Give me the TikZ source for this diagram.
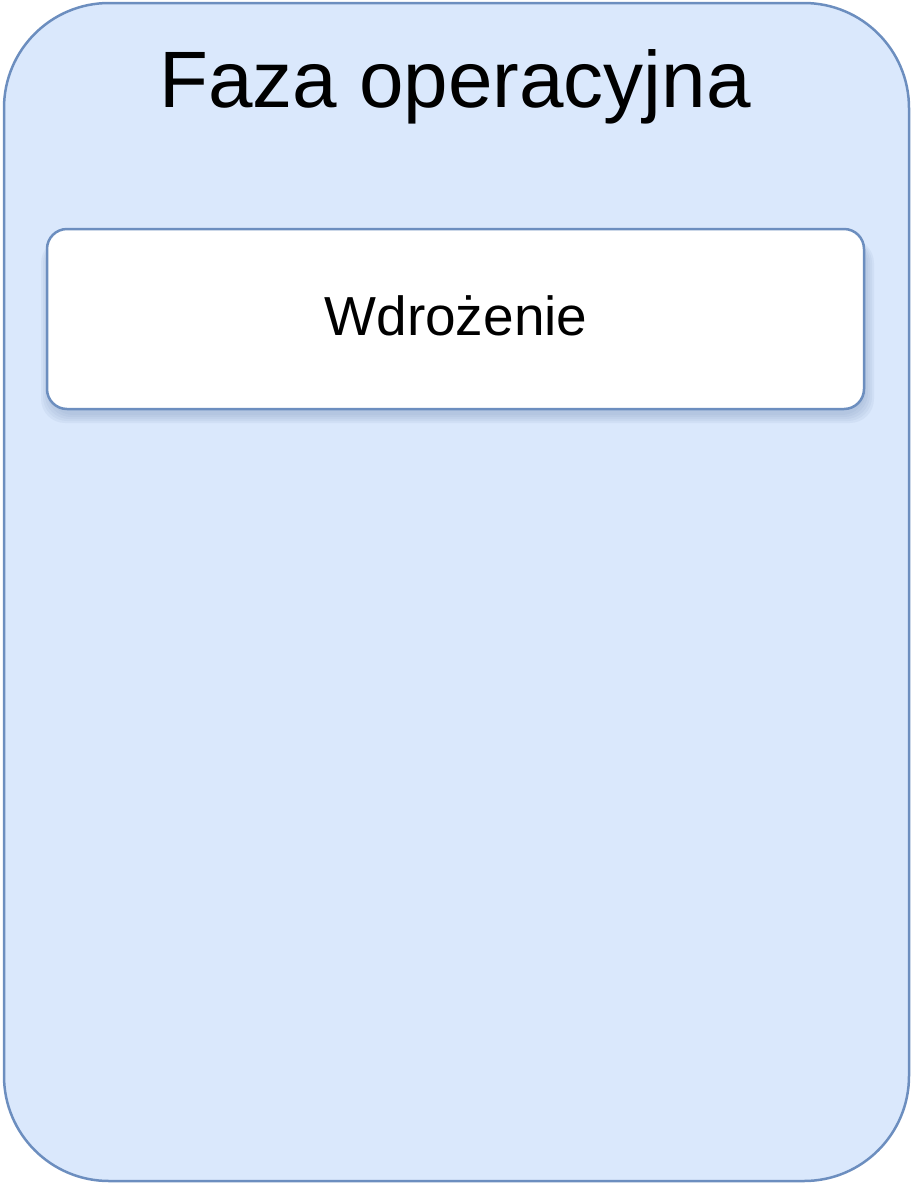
\documentclass[tikz,border=0pt]{standalone}
\usepackage{fontspec}
\setmainfont{Liberation Sans}
\usetikzlibrary{fit}
\definecolor{outerfill}{HTML}{DAE8FC}
\definecolor{edgeblue}{HTML}{6C8EBF}
\definecolor{shadowblue}{HTML}{8FA6C8}
\tikzset{
  phasebox/.style={draw=edgeblue, line width=2.5pt, fill=outerfill, rounded corners=105pt},
  stepbox/.style={draw=edgeblue, line width=2.5pt, fill=white, rounded corners=20pt},
  softshadow/.style={fill=shadowblue, fill opacity=0.12, rounded corners=24pt},
}
\begin{document}
\begin{tikzpicture}[x=1pt,y=-1pt]
\useasboundingbox (0,0) rectangle (912,1184);
\draw[phasebox] (4,3) rectangle (909,1181);
\node[font=\fontsize{80}{90}\selectfont, anchor=base] (title) at (455,107) {Faza operacyjna};
\coordinate (s1) at (47,229);
\coordinate (s2) at (864,409);
\foreach \d in {2,4,6,8,10} {
  \fill[softshadow] ([xshift=4pt-\d pt, yshift=-10pt]s1) rectangle ([xshift=\d pt, yshift=-\d pt-4pt]s2);
}
\node[stepbox, fit=(s1)(s2), inner sep=0pt] (step1) {};
\node[font=\fontsize{55}{60}\selectfont, anchor=base] (wd) at (456,335) {Wdrożenie};
\end{tikzpicture}
\end{document}
